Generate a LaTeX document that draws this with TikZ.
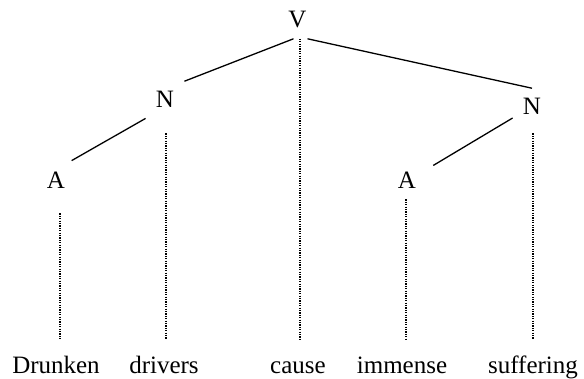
\documentclass[tikz,border=0pt]{standalone}
\usepackage{fontspec}
\setmainfont{Liberation Serif}
\usepackage{tikz}
\usetikzlibrary{positioning, calc}

\begin{document}
\begin{tikzpicture}[
    x=0.5pt, y=-0.5pt,
    cat/.style={anchor=base, inner sep=5pt, font=\fontsize{12.5}{15}\selectfont},
    word/.style={anchor=base, inner sep=0pt, text height=16.5pt, font=\fontsize{12.5}{15}\selectfont},
    branch/.style={line width=0.65pt},
    leaf/.style={line width=0.6pt, dash pattern=on 0.6pt off 0.6pt},
]
    \useasboundingbox (0,0) rectangle (584,379);

    \node[cat] (v) at (297.5, 28) {V};
    \node[cat] (nl) at (165, 108) {N};
    \node[cat] (nr) at (532, 115) {N};
    \node[cat] (al) at (56, 189) {A};
    \node[cat] (ar) at (407, 189) {A};

    \node[word] (w1) at (56, 373) {Drunken};
    \node[word] (w2) at (164, 373) {drivers};
    \node[word] (w3) at (298, 373) {cause};
    \node[word] (w4) at (402, 373) {immense};
    \node[word] (w5) at (533, 373) {suffering};

    \draw[branch] ([xshift=-2pt]v.south) -- (nl.north east);
    \draw[branch] ([xshift=5pt]v.south) -- (nr.north);
    \draw[branch, shorten >=1.5pt] (nl.south west) -- (al.55);
    \draw[branch, shorten >=4pt] (nr.210) -- (ar.30);

    \draw[leaf] ([xshift=1.2pt]v.south) -- ([xshift=1.2pt]v.south |- w3.north);
    \draw[leaf] ([shift={(0.5pt,-7.5pt)}]nl.south) -- ([xshift=0.5pt]nl.south |- w2.north);
    \draw[leaf] ([shift={(0.5pt,-4pt)}]nr.south) -- ([xshift=0.5pt]nr.south |- w5.north);
    \draw[leaf] ([shift={(2pt,-7pt)}]al.south) -- ([xshift=2pt]al.south |- w1.north);
    \draw[leaf] ([xshift=-0.5pt]ar.south) -- ([xshift=-0.5pt]ar.south |- w4.north);
\end{tikzpicture}
\end{document}
